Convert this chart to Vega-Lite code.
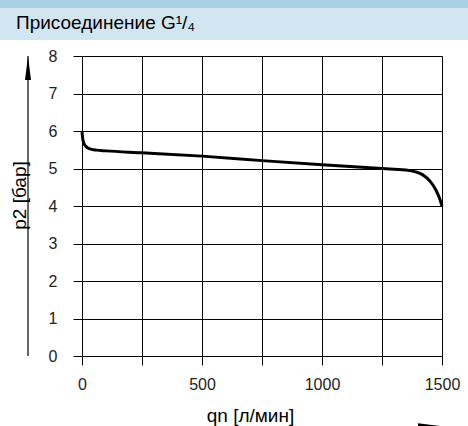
{
  "$schema": "https://vega.github.io/schema/vega-lite/v6.json",
  "padding": 0,
  "spacing": 8,
  "config": {"view": {"stroke": null}, "font": "Liberation Sans"},
  "vconcat": [
    {
      "spacing": 0,
      "vconcat": [
        {
          "width": 468, "height": 8,
          "data": {"values": [{}]},
          "mark": {"type": "rect", "color": "#a9d0e3"}
        },
        {
          "width": 468, "height": 32,
          "data": {"values": [{"label": "Присоединение G¹/₄"}]},
          "layer": [
            {"mark": {"type": "rect", "color": "#d1e6f1"}},
            {
              "mark": {"type": "text", "align": "left", "baseline": "middle", "dx": -218, "dy": -1, "fontSize": 19, "font": "Liberation Sans", "color": "#000"},
              "encoding": {"text": {"field": "label"}}
            }
          ]
        }
      ]
    },
    {
      "spacing": 17,
      "resolve": {"scale": {"x": "independent", "y": "independent"}, "axis": {"x": "independent", "y": "independent"}},
      "hconcat": [
        {
          "width": 28, "height": 300,
          "data": {"values": [{"from": 0, "to": 8}]},
          "layer": [
            {
              "mark": {"type": "rule", "color": "#000", "strokeWidth": 1.2},
              "encoding": {
                "x": {"datum": 1, "scale": {"domain": [0, 1]}, "axis": null},
                "y": {"field": "from", "type": "quantitative", "scale": {"domain": [0, 8]},
                  "axis": {"title": "p2 [бар]", "domain": false, "ticks": false, "labels": false, "grid": false,
                    "titleFont": "Liberation Sans", "titleFontSize": 19, "titleFontWeight": "normal", "titleColor": "#000",
                    "titleX": 19.5, "titleY": 139, "titleAngle": -90, "titleAlign": "center", "titleBaseline": "middle"}},
                "y2": {"field": "to"}
              }
            },
            {
              "mark": {"type": "point", "shape": "M0,0L0.25,2L-0.25,2Z", "size": 576, "filled": true, "color": "#000", "opacity": 1},
              "encoding": {
                "x": {"datum": 1},
                "y": {"field": "to", "type": "quantitative"}
              }
            }
          ]
        },
        {
          "width": 360, "height": 300,
          "encoding": {
            "x": {"field": "qn", "type": "quantitative", "scale": {"domain": [0, 1500], "nice": false},
              "axis": {"title": "qn [л/мин]", "values": [0, 250, 500, 750, 1000, 1250, 1500], "format": "d",
                "labelExpr": "datum.value % 500 === 0 ? datum.label : ''",
                "domain": false, "grid": true, "gridColor": "#000", "gridOpacity": 1, "gridWidth": 1,
                "ticks": true, "tickColor": "#000", "tickSize": 9, "tickWidth": 1,
                "labelFont": "Liberation Sans", "labelFontSize": 16, "labelColor": "#222", "labelPadding": 11,
                "labelFlush": false, "labelOverlap": false,
                "titleFont": "Liberation Sans", "titleFontSize": 19, "titleFontWeight": "normal", "titleColor": "#000",
                "titleX": 168, "titleY": 50, "titleBaseline": "top"}},
            "y": {"field": "p2", "type": "quantitative", "scale": {"domain": [0, 8], "nice": false},
              "axis": {"title": null, "values": [0, 1, 2, 3, 4, 5, 6, 7, 8],
                "domain": false, "grid": true, "gridColor": "#000", "gridOpacity": 1, "gridWidth": 1,
                "ticks": true, "tickColor": "#000", "tickSize": 9, "tickWidth": 1,
                "labelFont": "Liberation Sans", "labelFontSize": 16, "labelColor": "#222", "labelPadding": 16,
                "labelFlush": false, "labelOverlap": false}}
          },
          "layer": [
            {
              "data": {"values": [
                {"qn": 0, "p2": 6.0},
                {"qn": 2, "p2": 5.85},
                {"qn": 6, "p2": 5.7},
                {"qn": 15, "p2": 5.6},
                {"qn": 30, "p2": 5.53},
                {"qn": 60, "p2": 5.49},
                {"qn": 100, "p2": 5.47},
                {"qn": 250, "p2": 5.42},
                {"qn": 500, "p2": 5.33},
                {"qn": 750, "p2": 5.21},
                {"qn": 1000, "p2": 5.1},
                {"qn": 1250, "p2": 5.0},
                {"qn": 1300, "p2": 4.98},
                {"qn": 1350, "p2": 4.96},
                {"qn": 1390, "p2": 4.91},
                {"qn": 1420, "p2": 4.83},
                {"qn": 1440, "p2": 4.73},
                {"qn": 1460, "p2": 4.58},
                {"qn": 1475, "p2": 4.42},
                {"qn": 1490, "p2": 4.2},
                {"qn": 1500, "p2": 4.0}
              ]},
              "mark": {"type": "line", "color": "#000", "strokeWidth": 3, "interpolate": "monotone"}
            },
            {
              "data": {"values": [{"qn": 1500, "p2": -1.87}]},
              "mark": {"type": "point", "shape": "M0,0L-2,-0.25L-2,0.25Z", "size": 576, "filled": true, "color": "#000", "opacity": 1}
            }
          ]
        }
      ]
    }
  ]
}
